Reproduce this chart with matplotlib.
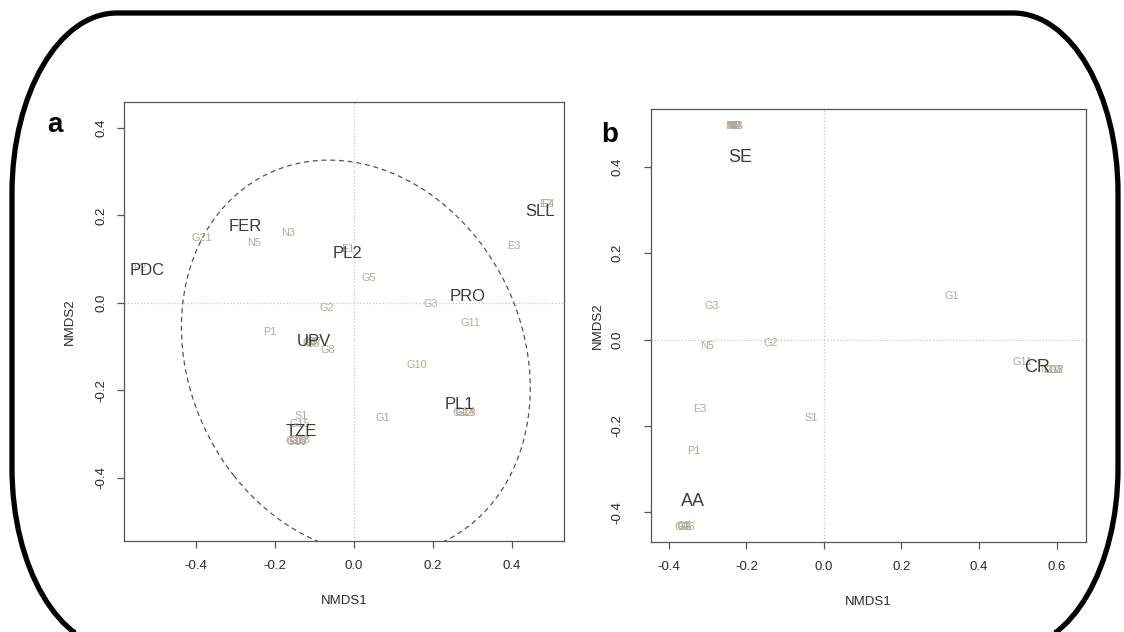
import matplotlib
matplotlib.use("Agg")
import matplotlib.pyplot as plt
from matplotlib.patches import Ellipse, Polygon
from matplotlib.path import Path

plt.rcParams['font.family'] = ['Liberation Sans', 'DejaVu Sans']

# panel a - sites
a_sites = ['G21', 'N5', 'N3', 'P2', 'E1', 'G5', 'G2', 'P1',
           'G4', 'G6', 'G7', 'G9', 'G8', 'G3', 'G11', 'G10', 'G1', 'E3',
           'E2', 'E4', 'G12', 'G13', 'G14', 'S1', 'G15',
           'G16', 'G17', 'G18', 'G19']
a_x = [-0.385, -0.253, -0.167, -0.542, -0.015, 0.038, -0.068, -0.213,
       -0.112, -0.104, -0.098, -0.108, -0.066, 0.195, 0.296, 0.160, 0.073, 0.405,
       0.485, 0.491, 0.277, 0.284, 0.281, -0.134, -0.137,
       -0.148, -0.140, -0.136, -0.144]
a_y = [0.149, 0.137, 0.160, 0.080, 0.123, 0.057, -0.011, -0.066,
       -0.091, -0.093, -0.090, -0.089, -0.107, -0.002, -0.046, -0.142, -0.263, 0.130,
       0.226, 0.227, -0.251, -0.252, -0.250, -0.258, -0.276,
       -0.315, -0.316, -0.314, -0.317]

# panel a - groups
a_groups = ['FER', 'PDC', 'PL2', 'UPV', 'TZE', 'PRO', 'SLL', 'PL1']
a_gx = [-0.276, -0.522, -0.015, -0.101, -0.134, 0.289, 0.471, 0.268]
a_gy = [0.174, 0.073, 0.114, -0.089, -0.293, 0.014, 0.208, -0.233]

# panel b - sites
b_sites = ['N1', 'N2', 'N3', 'N4', 'N6', 'G3', 'N5', 'G2', 'G1', 'E3', 'S1', 'P1',
           'G4', 'G5', 'G6', 'G7', 'G11', 'G10', 'G12', 'G8']
b_x = [-0.238, -0.232, -0.226, -0.230, -0.234, -0.289, -0.302, -0.137, 0.330, -0.320, -0.034, -0.335,
       -0.366, -0.358, -0.352, -0.362, 0.511, 0.585, 0.592, 0.597]
b_y = [0.494, 0.494, 0.494, 0.494, 0.495, 0.077, -0.016, -0.009, 0.102, -0.162, -0.181, -0.258,
       -0.434, -0.434, -0.434, -0.433, -0.051, -0.070, -0.070, -0.070]

# panel b - groups
b_groups = ['SE', 'AA', 'CR']
b_gx = [-0.217, -0.338, 0.550]
b_gy = [0.422, -0.376, -0.065]

site_col = '#b3a899'
group_col = '#3c3c3c'
ref_col = '#cfc5b8'
spine_col = '#555555'

fig = plt.figure(figsize=(11.24, 6.32), dpi=100)

# rounded outer frame (pixel coords, y down), flattened to a polygon
bg = fig.add_axes([0, 0, 1, 1], zorder=-1)
bg.set_xlim(0, 1124)
bg.set_ylim(632, 0)
bg.axis('off')
L, R, T, B = 12, 1118, 13, 648
rx, ry = 105, 180
k = 0.5523
verts = [(L + rx, T), (R - rx, T),
         (R - rx + k * rx, T), (R, T + ry - k * ry), (R, T + ry),
         (R, B - ry),
         (R, B - ry + k * ry), (R - rx + k * rx, B), (R - rx, B),
         (L + rx, B),
         (L + rx - k * rx, B), (L, B - ry + k * ry), (L, B - ry),
         (L, T + ry),
         (L, T + ry - k * ry), (L + rx - k * rx, T), (L + rx, T)]
codes = [Path.MOVETO, Path.LINETO,
         Path.CURVE4, Path.CURVE4, Path.CURVE4,
         Path.LINETO,
         Path.CURVE4, Path.CURVE4, Path.CURVE4,
         Path.LINETO,
         Path.CURVE4, Path.CURVE4, Path.CURVE4,
         Path.LINETO,
         Path.CURVE4, Path.CURVE4, Path.CURVE4]
poly = Path(verts, codes).to_polygons(closed_only=False)[0]
bg.add_patch(Polygon(poly, closed=True, fill=False, ec='black', lw=3.8,
                     joinstyle='round', clip_on=False))


def style(ax, ypad):
    for s in ax.spines.values():
        s.set_color(spine_col)
        s.set_linewidth(0.9)
    ax.tick_params(direction='out', length=5, width=0.9, color=spine_col,
                   labelsize=9.5, labelcolor='#2a2a2a')
    ax.tick_params(axis='x', pad=9)
    ax.tick_params(axis='y', pad=ypad)
    for lab in ax.get_yticklabels():
        lab.set_rotation(90)
        lab.set_va('center')
    ax.axhline(0, ls=':', color=ref_col, lw=0.9, zorder=0)
    ax.axvline(0, ls=':', color=ref_col, lw=0.9, zorder=0)
    ax.set_xlabel('NMDS1', fontsize=9.5, color='#2a2a2a', labelpad=16)


# panel a
ax1 = fig.add_axes([0.1103, 0.144, 0.3915, 0.6946])
ax1.set_xlim(-0.582, 0.532)
ax1.set_ylim(-0.544, 0.459)
ax1.set_xticks([-0.4, -0.2, 0.0, 0.2, 0.4])
ax1.set_yticks([-0.4, -0.2, 0.0, 0.2, 0.4])
ax1.set_xticklabels(['-0.4', '-0.2', '0.0', '0.2', '0.4'])
ax1.set_yticklabels(['-0.4', '-0.2', '0.0', '0.2', '0.4'])
style(ax1, 7)
ax1.set_ylabel('NMDS2', fontsize=9.5, color='#2a2a2a', labelpad=14)
ax1.add_patch(Ellipse((0.005, -0.125), 2 * 0.48, 2 * 0.41, angle=-49,
                      fill=False, ls=(0, (4, 3)), ec='#555555', lw=0.9))
for s, x, y in zip(a_sites, a_x, a_y):
    ax1.text(x, y, s, color=site_col, fontsize=7.8, ha='center', va='center')
for s, x, y in zip(a_groups, a_gx, a_gy):
    ax1.text(x, y, s, color=group_col, fontsize=12, ha='center', va='center')

# panel b
ax2 = fig.add_axes([0.5792, 0.1424, 0.387, 0.685])
ax2.set_xlim(-0.446, 0.676)
ax2.set_ylim(-0.469, 0.534)
ax2.set_xticks([-0.4, -0.2, 0.0, 0.2, 0.4, 0.6])
ax2.set_yticks([-0.4, -0.2, 0.0, 0.2, 0.4])
ax2.set_xticklabels(['-0.4', '-0.2', '0.0', '0.2', '0.4', '0.6'])
ax2.set_yticklabels(['-0.4', '-0.2', '0.0', '0.2', '0.4'])
style(ax2, 15)
ax2.set_ylabel('NMDS2', fontsize=9.5, color='#2a2a2a', labelpad=5)
for s, x, y in zip(b_sites, b_x, b_y):
    ax2.text(x, y, s, color=site_col, fontsize=7.8, ha='center', va='center')
for s, x, y in zip(b_groups, b_gx, b_gy):
    ax2.text(x, y, s, color=group_col, fontsize=13, ha='center', va='center')

fig.text(55 / 1124, 1 - 125 / 632, 'a', fontsize=20, fontweight='bold', ha='center', va='center')
fig.text(610 / 1124, 1 - 135 / 632, 'b', fontsize=20, fontweight='bold', ha='center', va='center')

fig.savefig('out.png', dpi=100)
